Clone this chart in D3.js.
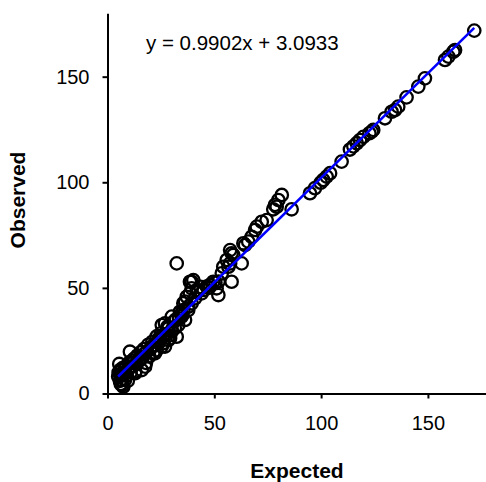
<!DOCTYPE html>
<html>
<head>
<meta charset="utf-8">
<script src="https://cdn.jsdelivr.net/npm/d3@7"></script>
<style>
    body { margin: 0; background: #fff; }
    text { font-family: "Liberation Sans", Arial, sans-serif; }
</style>
</head>
<body>
<svg id="chart"></svg>
<script>
const width = 486, height = 482;

// values
const expected = [
    171.7, 162.7, 161.9, 159.6, 158.0, 148.6, 145.5, 140.0, 136.1, 134.6, 133.0, 129.9,
    124.4, 123.7, 122.6, 119.8, 118.2, 116.7, 115.1, 113.5, 109.6, 104.2, 102.6, 101.0,
    99.8, 97.1, 94.8, 86.2, 81.6, 80.0, 79.2, 78.4, 77.6, 74.5, 72.2, 69.9, 69.1, 67.5,
    65.9, 64.4, 63.6, 62.8, 58.1, 58.9, 57.4, 57.4, 55.8, 56.6, 54.2, 53.5, 58.1, 49.5,
    48.0, 51.1, 51.9, 46.4, 44.1, 41.8, 40.2, 39.4, 38.6, 39.4, 37.1, 41.0, 38.6, 37.8,
    39.4, 36.3, 35.5, 35.5, 34.7, 33.9, 37.8, 34.7, 36.3, 33.1, 32.4, 32.4, 30.1, 30.1,
    30.1, 29.3, 28.5, 28.5, 26.9, 26.1, 25.4, 26.9, 25.4, 26.1, 23.8, 22.2, 20.7, 17.6,
    17.6, 16.0, 14.4, 12.9, 11.3, 10.5, 7.4, 6.6, 5.9, 5.5,
    5.0, 5.2, 5.8, 6.2, 6.8, 7.0, 7.5, 8.0, 8.2, 8.8, 9.0, 9.5, 10.0, 10.8, 11.5, 12.0,
    12.5, 13.5, 14.0, 15.0, 15.5, 16.5, 17.0, 18.5, 19.0, 19.5, 20.0, 21.0, 21.5, 22.5,
    23.0, 24.0, 24.5, 25.0, 27.5, 28.0, 29.0, 31.0, 31.5, 32.0, 33.5, 35.0, 23.0, 18.0,
    13.0, 9.5, 7.0, 6.0, 42.5, 43.5, 45.0, 47.5, 50.5, 52.0
];
const observed = [
    171.8, 162.6, 161.8, 159.5, 157.9, 149.2, 145.3, 140.2, 135.8, 134.2, 133.4, 130.3,
    124.8, 124.0, 123.2, 121.5, 120.0, 118.5, 117.0, 115.5, 109.8, 104.3, 102.7, 101.1,
    99.8, 97.2, 94.8, 87.2, 94.0, 91.6, 88.4, 89.3, 87.2, 82.1, 81.3, 79.0, 77.4, 74.2,
    71.9, 70.3, 71.1, 61.6, 66.4, 65.6, 67.9, 61.6, 63.2, 60.0, 60.0, 56.9, 52.9, 52.9,
    51.4, 49.8, 46.6, 50.6, 47.4, 49.0, 53.7, 52.9, 52.9, 49.8, 45.8, 45.1, 47.4, 41.1,
    42.7, 43.5, 42.7, 39.5, 38.0, 38.7, 39.5, 36.4, 34.8, 32.4, 26.9, 61.6, 30.1, 36.4,
    29.3, 26.1, 30.9, 25.3, 33.2, 27.7, 32.4, 22.2, 22.2, 23.8, 25.3, 19.0, 22.2, 19.0,
    12.7, 11.1, 15.1, 9.6, 12.7, 19.8, 3.2, 6.4, 11.1, 14.0,
    8.0, 10.0, 6.0, 4.5, 8.5, 12.0, 9.0, 11.5, 6.5, 13.0, 8.5, 11.0, 14.5, 10.0, 15.5, 13.0,
    16.5, 14.0, 18.0, 16.0, 19.5, 17.0, 21.0, 20.0, 23.0, 17.5, 21.0, 24.5, 19.5, 23.0,
    27.0, 24.0, 26.5, 28.5, 28.0, 31.5, 27.5, 34.0, 31.0, 35.0, 35.5, 37.0, 20.5, 14.5,
    10.5, 6.0, 4.0, 9.0, 48.5, 50.5, 49.0, 50.0, 52.5, 53.0
];
const xTicks = [0, 50, 100, 150];
const yTicks = [0, 50, 100, 150];
const fit = [0.9902, 3.0933]; // slope, intercept

const x = d3.scaleLinear()
    .domain([0, 180])
    .range([107.5, 492]);

const y = d3.scaleLinear()
    .domain([0, 180])
    .range([393.5, 13.3]);

let svg = d3.select("#chart")
    .attr("width", width)
    .attr("height", height);

let points = expected.map(function (d, i) {
    return {x: d, y: observed[i]};
});

svg.append("g")
    .selectAll("circle")
    .data(points)
    .enter().append("circle")
    .attr("cx", function (d) { return x(d.x); })
    .attr("cy", function (d) { return y(d.y); })
    .attr("r", 6.2)
    .style("fill", "none")
    .style("stroke", "#000")
    .style("stroke-width", 2.3);

// fitted line across the data range
let xr = d3.extent(expected);
svg.append("line")
    .attr("x1", x(xr[0]))
    .attr("y1", y(fit[0] * xr[0] + fit[1]))
    .attr("x2", x(xr[1]))
    .attr("y2", y(fit[0] * xr[1] + fit[1]))
    .style("stroke", "#0000ff")
    .style("stroke-width", 2.5);

let gx = svg.append("g")
    .attr("transform", "translate(0," + y(0) + ")")
    .call(d3.axisBottom(x).tickValues(xTicks).tickSize(5).tickSizeOuter(0).tickPadding(17));

let gy = svg.append("g")
    .attr("transform", "translate(" + x(0) + ",0)")
    .call(d3.axisLeft(y).tickValues(yTicks).tickSize(5).tickSizeOuter(0).tickPadding(13));

[gx, gy].forEach(function (g) {
    g.selectAll("path, line").style("stroke", "#000").style("stroke-width", 2);
    g.selectAll("text")
        .style("font-family", '"Liberation Sans", Arial, sans-serif')
        .style("font-size", "20px")
        .style("fill", "#000");
});

svg.append("text")
    .attr("x", 146)
    .attr("y", 49.5)
    .style("font-size", "20.5px")
    .text("y = " + fit[0].toFixed(4) + "x + " + fit[1].toFixed(4));

svg.append("text")
    .attr("x", 297)
    .attr("y", 478)
    .attr("text-anchor", "middle")
    .style("font-size", "21px")
    .style("font-weight", "bold")
    .text("Expected");

svg.append("text")
    .attr("transform", "translate(25,200) rotate(-90)")
    .attr("text-anchor", "middle")
    .style("font-size", "21px")
    .style("font-weight", "bold")
    .text("Observed");
</script>
</body>
</html>
